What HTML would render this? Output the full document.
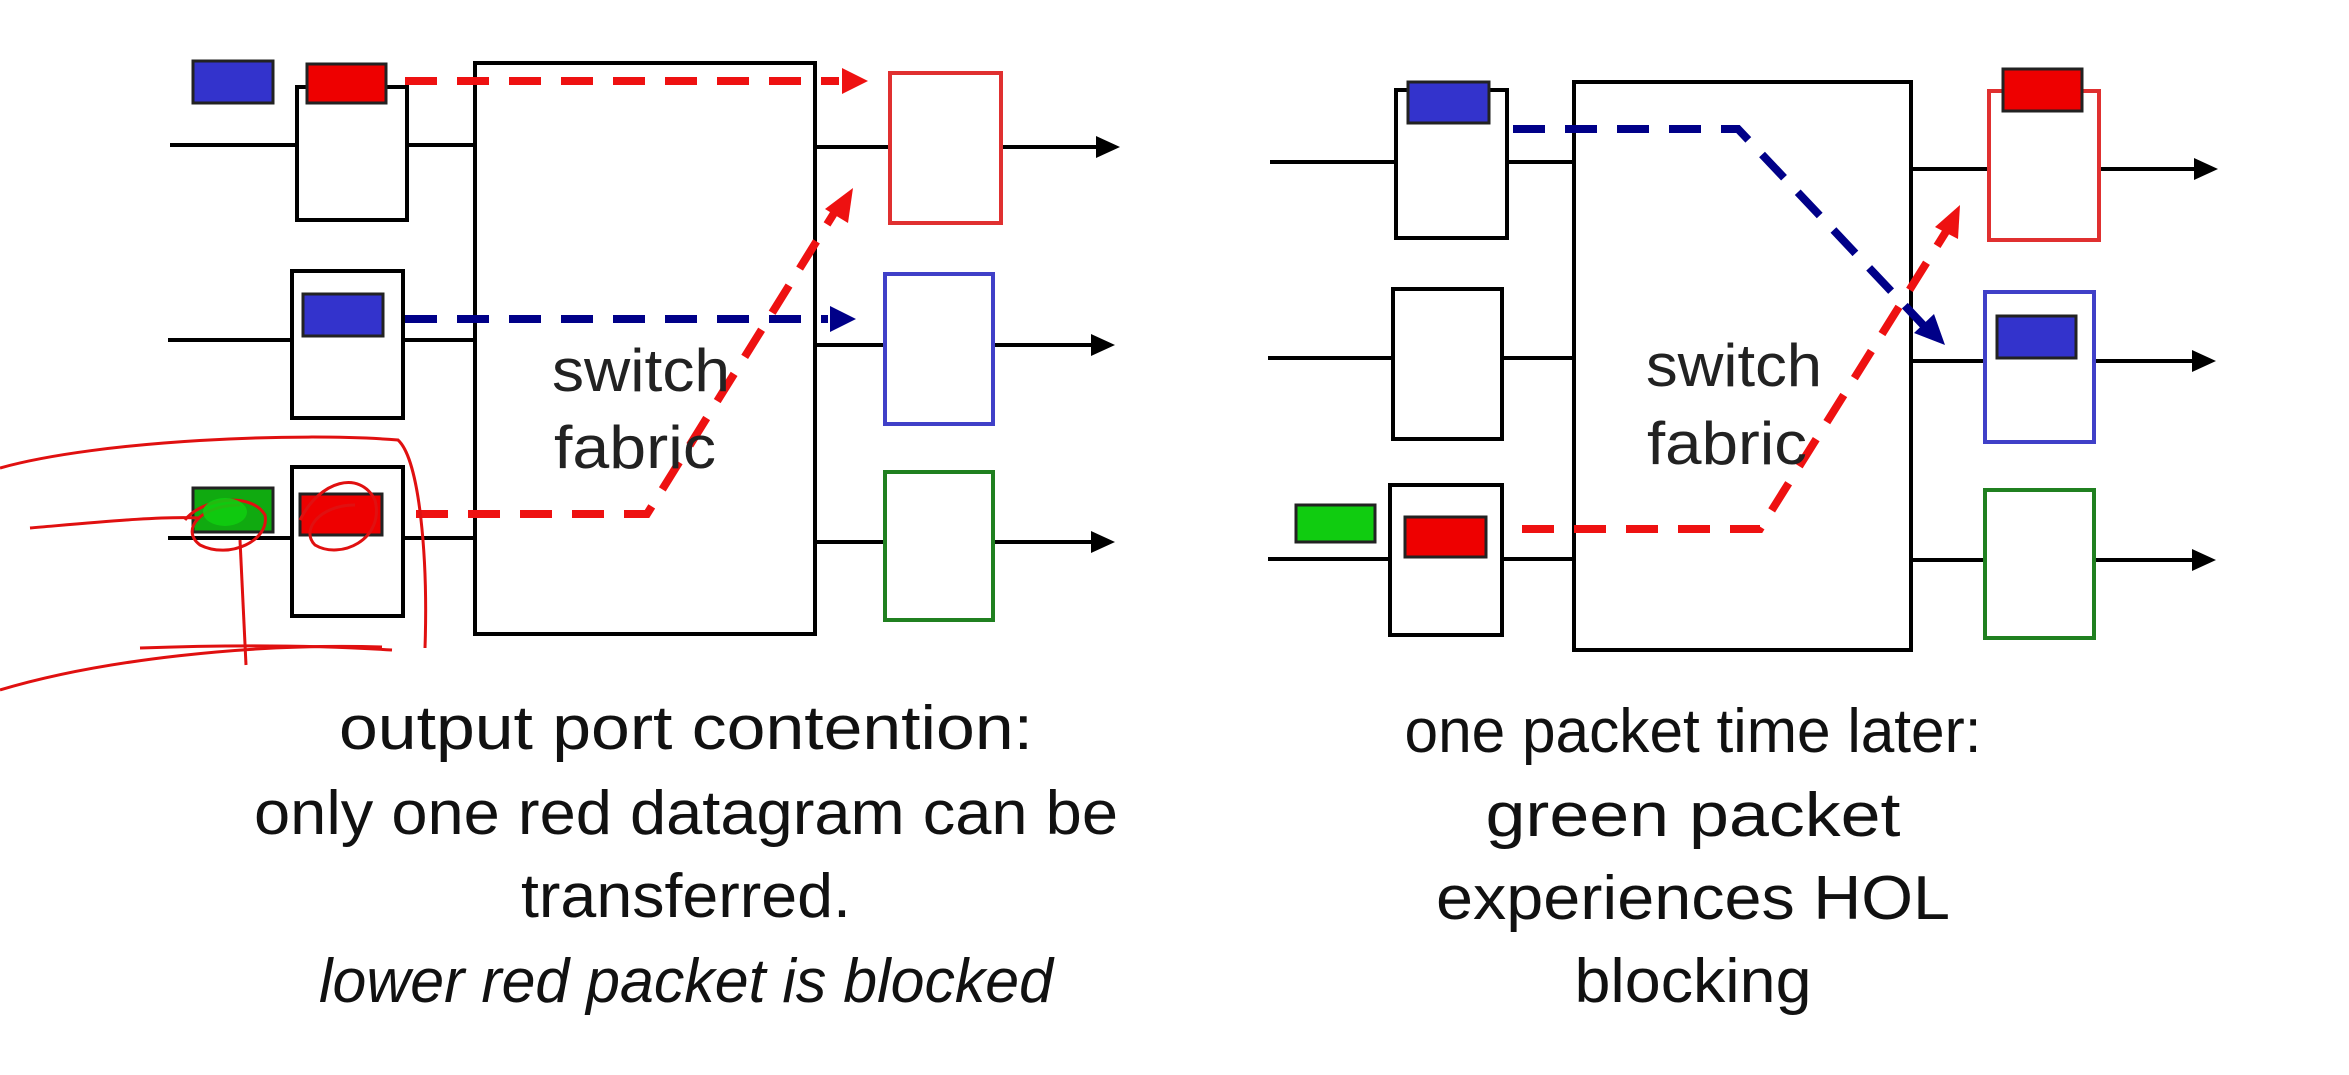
<!DOCTYPE html>
<html><head><meta charset="utf-8"><style>
html,body{margin:0;padding:0;background:#fff;}
svg{display:block;}
text{font-family:"Liberation Sans",sans-serif;}
</style></head><body>
<svg width="2349" height="1075" viewBox="0 0 2349 1075" xmlns="http://www.w3.org/2000/svg">
<g fill="none" stroke="#000" stroke-width="4">
<rect x="475" y="63" width="340" height="571"/>
<rect x="297" y="87" width="110" height="133"/>
<rect x="292" y="271" width="111" height="147"/>
<rect x="292" y="467" width="111" height="149"/>
<line x1="170" y1="145" x2="297" y2="145"/><line x1="407" y1="145" x2="475" y2="145"/>
<line x1="168" y1="340" x2="292" y2="340"/><line x1="403" y1="340" x2="475" y2="340"/>
<line x1="168" y1="538" x2="292" y2="538"/><line x1="403" y1="538" x2="475" y2="538"/>
<line x1="815" y1="147" x2="890" y2="147"/><line x1="1001" y1="147" x2="1100" y2="147"/>
<line x1="815" y1="345" x2="885" y2="345"/><line x1="993" y1="345" x2="1095" y2="345"/>
<line x1="815" y1="542" x2="885" y2="542"/><line x1="993" y1="542" x2="1095" y2="542"/>
<rect x="1574" y="82" width="337" height="568"/>
<rect x="1396" y="90" width="111" height="148"/>
<rect x="1393" y="289" width="109" height="150"/>
<rect x="1390" y="485" width="112" height="150"/>
<line x1="1270" y1="162" x2="1396" y2="162"/><line x1="1507" y1="162" x2="1574" y2="162"/>
<line x1="1268" y1="358" x2="1393" y2="358"/><line x1="1502" y1="358" x2="1574" y2="358"/>
<line x1="1268" y1="559" x2="1390" y2="559"/><line x1="1502" y1="559" x2="1574" y2="559"/>
<line x1="1911" y1="169" x2="1989" y2="169"/><line x1="2099" y1="169" x2="2198" y2="169"/>
<line x1="1911" y1="361" x2="1985" y2="361"/><line x1="2094" y1="361" x2="2196" y2="361"/>
<line x1="1911" y1="560" x2="1985" y2="560"/><line x1="2094" y1="560" x2="2196" y2="560"/>
</g>
<g fill="#000">
<polygon points="1120,147 1096,136 1096,158"/>
<polygon points="1115,345 1091,334 1091,356"/>
<polygon points="1115,542 1091,531 1091,553"/>
<polygon points="2218,169 2194,158 2194,180"/>
<polygon points="2216,361 2192,350 2192,372"/>
<polygon points="2216,560 2192,549 2192,571"/>
</g>
<rect x="890" y="73" width="111" height="150" fill="none" stroke="#e03030" stroke-width="4"/>
<rect x="885" y="274" width="108" height="150" fill="none" stroke="#4040c8" stroke-width="4"/>
<rect x="885" y="472" width="108" height="148" fill="none" stroke="#208020" stroke-width="4"/>
<rect x="1989" y="91" width="110" height="149" fill="none" stroke="#e03030" stroke-width="4"/>
<rect x="1985" y="292" width="109" height="150" fill="none" stroke="#4040c8" stroke-width="4"/>
<rect x="1985" y="490" width="109" height="148" fill="none" stroke="#208020" stroke-width="4"/>
<g stroke="#222" stroke-width="3">
<rect x="193" y="61" width="80" height="42" fill="#3333cc"/>
<rect x="307" y="64" width="79" height="39" fill="#ee0000"/>
<rect x="303" y="294" width="80" height="42" fill="#3333cc"/>
<rect x="193" y="488" width="80" height="44" fill="#10aa10"/>
<rect x="300" y="494" width="82" height="41" fill="#ee0000"/>
<rect x="1408" y="82" width="81" height="41" fill="#3333cc"/>
<rect x="1296" y="505" width="79" height="37" fill="#10cc10"/>
<rect x="1405" y="517" width="81" height="40" fill="#ee0000"/>
<rect x="2003" y="69" width="79" height="42" fill="#ee0000"/>
<rect x="1997" y="316" width="79" height="42" fill="#3333cc"/>
</g>
<g fill="none" stroke-width="8" stroke-dasharray="32,20">
<polyline points="405,81 839,81" stroke="#ee1111"/>
<polyline points="405,319 828,319" stroke="#000088"/>
<polyline points="416,514 647,514 836,210" stroke="#ee1111"/>
<polyline points="1513,129 1738,129 1925,327" stroke="#000088"/>
<polyline points="1522,529 1760,529 1952,222" stroke="#ee1111"/>
</g>
<polygon points="868,81 842,68 842,94" fill="#ee1111"/>
<polygon points="856,319 830,306 830,332" fill="#000088"/>
<polygon points="853,188 825,209 848,223" fill="#ee1111"/>
<polygon points="1945,345 1914,333 1934,314" fill="#000088"/>
<polygon points="1960,205 1935,227 1958,239" fill="#ee1111"/>
<g font-size="60" fill="#222">
<text x="552" y="391" textLength="178" lengthAdjust="spacingAndGlyphs">switch</text>
<text x="554" y="468" textLength="162" lengthAdjust="spacingAndGlyphs">fabric</text>
<text x="1646" y="386" textLength="176" lengthAdjust="spacingAndGlyphs">switch</text>
<text x="1647" y="464" textLength="160" lengthAdjust="spacingAndGlyphs">fabric</text>
</g>
<g fill="none" stroke="#e01010" stroke-width="3">
<path d="M0,468 C100,440 300,432 398,440 C420,460 428,560 425,648"/>
<path d="M30,528 C100,522 160,516 200,518"/>
<path d="M140,648 C250,644 330,646 392,650"/>
<path d="M0,690 C100,660 250,643 382,647"/>
<path d="M240,540 L246,665"/>
<path d="M185,520 C200,500 250,490 265,515 C270,540 230,560 200,545 C180,530 200,505 240,505"/>
<path d="M300,520 C320,480 360,470 375,500 C385,540 340,560 315,545 C300,530 320,505 355,505"/>
</g>
<ellipse cx="225" cy="512" rx="22" ry="14" fill="#10cc10" opacity="0.9"/>
<g font-size="62" fill="#111" text-anchor="middle">
<text x="686" y="749" textLength="694" lengthAdjust="spacingAndGlyphs">output port contention:</text>
<text x="686" y="834" textLength="864" lengthAdjust="spacingAndGlyphs">only one red datagram can be</text>
<text x="686" y="917" textLength="330" lengthAdjust="spacingAndGlyphs">transferred.</text>
<text x="686" y="1002" font-style="italic" textLength="734" lengthAdjust="spacingAndGlyphs">lower red packet is blocked</text>
<text x="1693" y="752" textLength="577" lengthAdjust="spacingAndGlyphs">one packet time later:</text>
<text x="1693" y="836" textLength="415" lengthAdjust="spacingAndGlyphs">green packet</text>
<text x="1693" y="919" textLength="514" lengthAdjust="spacingAndGlyphs">experiences HOL</text>
<text x="1693" y="1002" textLength="237" lengthAdjust="spacingAndGlyphs">blocking</text>
</g>
</svg>
</body></html>
